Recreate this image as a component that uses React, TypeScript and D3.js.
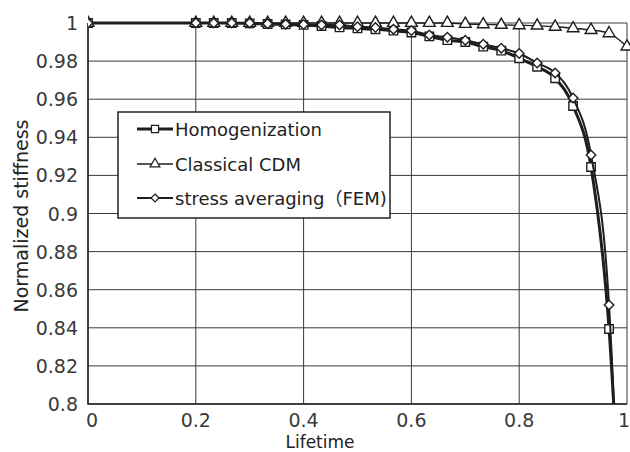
import React, { useEffect, useRef } from "react";
import * as d3 from "d3";

// normalized lifetime (x) shared by all three series
const lifetime = [
  0, 0.2, 0.2333, 0.2667, 0.3, 0.3333, 0.3667, 0.4, 0.4333, 0.4667, 0.5,
  0.5333, 0.5667, 0.6, 0.6333, 0.6667, 0.7, 0.7333, 0.7667, 0.8, 0.8333,
  0.8667, 0.9, 0.9333, 0.9667, 1.0,
];

const homogenization = [
  1, 1, 1, 1, 0.9998, 0.9995, 0.9993, 0.999, 0.9984, 0.9977, 0.9972, 0.9967,
  0.996, 0.995, 0.993, 0.991, 0.99, 0.9876, 0.9855, 0.9815, 0.977, 0.971,
  0.9564, 0.9244, 0.8394, 0.66,
];

const classicalCDM = [
  1, 1, 1, 1, 1, 1, 1, 1, 1, 1, 1, 1, 1, 1, 1, 1, 0.9995, 0.9993, 0.999,
  0.9988, 0.9986, 0.998, 0.9972, 0.9963, 0.9946, 0.9876,
];

const stressAveraging = [
  1, 1, 1, 1, 1, 0.9996, 0.9994, 0.9992, 0.999, 0.999, 0.998, 0.9977, 0.9967,
  0.996, 0.9937, 0.9925, 0.991, 0.9888, 0.9867, 0.984, 0.979, 0.9738, 0.9606,
  0.9307, 0.852, 0.61,
];

const yTicks = [0.8, 0.82, 0.84, 0.86, 0.88, 0.9, 0.92, 0.94, 0.96, 0.98, 1];
const xTicks = [0, 0.2, 0.4, 0.6, 0.8, 1];
const yTickLabels = ["0.8", "0.82", "0.84", "0.86", "0.88", "0.9", "0.92", "0.94", "0.96", "0.98", "1"];
const xTickLabels = ["0", "0.2", "0.4", "0.6", "0.8", "1"];

const seriesNames = ["Homogenization", "Classical CDM", "stress averaging（FEM)"];

// square rotated 45deg
const diamondSym: d3.SymbolType = {
  draw(ctx, size) {
    const r = Math.sqrt(size) / 2;
    ctx.moveTo(0, -r);
    ctx.lineTo(r, 0);
    ctx.lineTo(0, r);
    ctx.lineTo(-r, 0);
    ctx.closePath();
  },
};

const App: React.FC = () => {
  const svgRef = useRef<SVGSVGElement | null>(null);

  useEffect(() => {
    if (!svgRef.current) return;
    const width = 630;
    const height = 452;
    const m = { left: 88, top: 23, right: 3, bottom: 48 };
    const font = "'DejaVu Sans', 'Noto Sans CJK JP', sans-serif";

    const x = d3.scaleLinear().domain([0, 1]).range([m.left, width - m.right]);
    const y = d3.scaleLinear().domain([0.8, 1]).range([height - m.bottom, m.top]);

    const svg = d3.select(svgRef.current);
    svg.selectAll("*").remove();
    svg.attr("width", width).attr("height", height);

    svg.append("rect").attr("width", width).attr("height", height).attr("fill", "#fff");

    svg
      .append("defs")
      .append("clipPath")
      .attr("id", "plot-clip")
      .append("rect")
      .attr("x", m.left)
      .attr("y", m.top - 10)
      .attr("width", width - m.left - m.right + 4)
      .attr("height", height - m.bottom - m.top + 10);

    /* grid */
    const grid = svg.append("g").attr("stroke", "#3a3a3a").attr("stroke-width", 1);
    yTicks.forEach((t) => {
      grid
        .append("line")
        .attr("x1", x(0))
        .attr("x2", x(1))
        .attr("y1", y(t))
        .attr("y2", y(t));
    });
    xTicks.forEach((t) => {
      grid
        .append("line")
        .attr("x1", x(t))
        .attr("x2", x(t))
        .attr("y1", y(0.8))
        .attr("y2", y(1));
    });
    // axes a bit heavier
    svg
      .append("path")
      .attr("d", `M${x(0)},${y(1)}V${y(0.8)}H${x(1)}`)
      .attr("fill", "none")
      .attr("stroke", "#222")
      .attr("stroke-width", 1.5);

    /* tick labels */
    svg
      .append("g")
      .selectAll("text")
      .data(yTicks)
      .enter()
      .append("text")
      .attr("x", x(0) - 10)
      .attr("y", (d) => y(d) + 7)
      .attr("text-anchor", "end")
      .attr("font-family", font)
      .attr("font-size", 19)
      .attr("fill", "#3a3a3a")
      .text((_, i) => yTickLabels[i]);

    svg
      .append("g")
      .selectAll("text")
      .data(xTicks)
      .enter()
      .append("text")
      .attr("x", (d) => x(d) + (d === 0 ? 4 : d === 1 ? -3 : 0))
      .attr("y", y(0.8) + 23)
      .attr("text-anchor", "middle")
      .attr("font-family", font)
      .attr("font-size", 19)
      .attr("fill", "#3a3a3a")
      .text((_, i) => xTickLabels[i]);

    svg
      .append("text")
      .attr("x", 320)
      .attr("y", 448)
      .attr("text-anchor", "middle")
      .attr("font-family", font)
      .attr("font-size", 17)
      .attr("fill", "#222")
      .text("Lifetime");

    svg
      .append("text")
      .attr("transform", "translate(28,216) rotate(-90)")
      .attr("text-anchor", "middle")
      .attr("font-family", font)
      .attr("font-size", 19)
      .attr("fill", "#222")
      .text("Normalized stiffness");

    /* series */
    const line = d3
      .line<number>()
      .x((_, i) => x(lifetime[i]))
      .y((d) => y(d))
      .curve(d3.curveMonotoneX);

    const series = [
      { values: homogenization, width: 3, sym: d3.symbolSquare, size: 72 },
      { values: classicalCDM, width: 1.4, sym: d3.symbolTriangle, size: 60 },
      { values: stressAveraging, width: 2, sym: diamondSym, size: 90 },
    ];

    const plot = svg.append("g").attr("clip-path", "url(#plot-clip)");
    series.forEach((s) => {
      plot
        .append("path")
        .attr("d", line(s.values))
        .attr("fill", "none")
        .attr("stroke", "#1e1e1e")
        .attr("stroke-width", s.width);
      plot
        .selectAll(null)
        .data(s.values)
        .enter()
        .filter((d) => d >= 0.8)
        .append("path")
        .attr("transform", (d, i) => `translate(${x(lifetime[i])},${y(d)})`)
        .attr("d", d3.symbol().type(s.sym).size(s.size)())
        .attr("fill", "#fff")
        .attr("stroke", "#1e1e1e")
        .attr("stroke-width", 1.4);
    });

    /* legend */
    const lg = svg.append("g");
    lg.append("rect")
      .attr("x", 118)
      .attr("y", 112)
      .attr("width", 272)
      .attr("height", 106)
      .attr("fill", "#fff")
      .attr("stroke", "#222")
      .attr("stroke-width", 1.5);

    const rowsY = [129, 164, 198];
    series.forEach((s, i) => {
      const ry = rowsY[i];
      lg.append("line")
        .attr("x1", 137)
        .attr("x2", 173)
        .attr("y1", ry)
        .attr("y2", ry)
        .attr("stroke", "#1e1e1e")
        .attr("stroke-width", s.width);
      lg.append("path")
        .attr("transform", `translate(155,${ry})`)
        .attr("d", d3.symbol().type(s.sym).size(s.size * 0.7)())
        .attr("fill", "#fff")
        .attr("stroke", "#1e1e1e")
        .attr("stroke-width", 1.2);
      lg.append("text")
        .attr("x", 175)
        .attr("y", ry + 7)
        .attr("font-family", font)
        .attr("font-size", 18)
        .attr("fill", "#222")
        .text(seriesNames[i]);
    });
  }, []);

  return <svg ref={svgRef} style={{ position: "absolute", left: 0, top: 0 }} />;
};

export default App;
